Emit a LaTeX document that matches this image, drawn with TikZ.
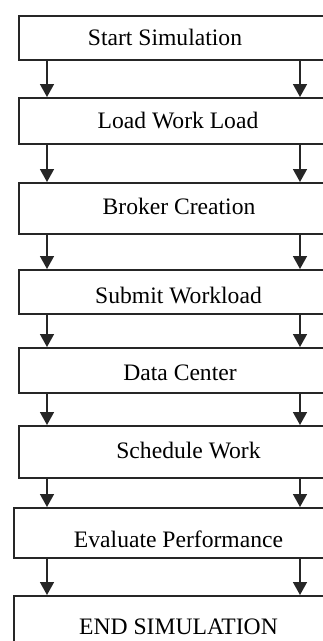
\documentclass[tikz,border=0pt]{standalone}
\usepackage{fontspec}
\setmainfont{Liberation Serif}
\usetikzlibrary{positioning,arrows.meta}

\begin{document}
\begin{tikzpicture}[
    x=1pt,y=-1pt,
    box/.style={rectangle,draw=black!85,line width=1.6pt,inner sep=0pt,anchor=north west},
    lbl/.style={anchor=base,inner sep=0pt,font=\fontsize{23.6}{28}\selectfont},
    arr/.style={-{Triangle[width=14pt,length=13pt]},line width=1.5pt,draw=black!85}
]
    \useasboundingbox (0,0) rectangle (323,641);
    \clip (0,0) rectangle (323,641);
    \coordinate (L) at (47,0);
    \coordinate (R) at (300,0);
    % boxes (right side runs off the picture)
    \node[box,minimum width=312pt,minimum height=44pt] (b1) at (18,15) {};
    \node[box,minimum width=312pt,minimum height=46pt] (b2) at (18,97) {};
    \node[box,minimum width=312pt,minimum height=51pt] (b3) at (18,182) {};
    \node[box,minimum width=312pt,minimum height=44pt] (b4) at (18,269) {};
    \node[box,minimum width=312pt,minimum height=45pt] (b5) at (18,347) {};
    \node[box,minimum width=312pt,minimum height=52pt] (b6) at (18,425) {};
    \node[box,minimum width=317pt,minimum height=50pt] (b7) at (13,507) {};
    \node[box,minimum width=317pt,minimum height=70pt] (b8) at (13,595) {};
    % labels
    \node[lbl] (t1) at (165,45) {Start Simulation};
    \node[lbl] (t2) at (178,128) {Load Work Load};
    \node[lbl] (t3) at (179,214) {Broker Creation};
    \node[lbl] (t4) at (178.5,303) {Submit Workload};
    \node[lbl] (t5) at (180,380) {Data Center};
    \node[lbl] (t6) at (188.5,458) {Schedule Work};
    \node[lbl] (t7) at (178.5,547) {Evaluate Performance};
    \node[lbl] (t8) at (178.5,634) {END SIMULATION};
    % arrows
    \foreach \a/\b in {b1/b2,b2/b3,b3/b4,b4/b5,b5/b6,b6/b7,b7/b8} {
        \draw[arr] (\a.south -| L) -- (\b.north -| L);
        \draw[arr] (\a.south -| R) -- (\b.north -| R);
    }
\end{tikzpicture}
\end{document}
